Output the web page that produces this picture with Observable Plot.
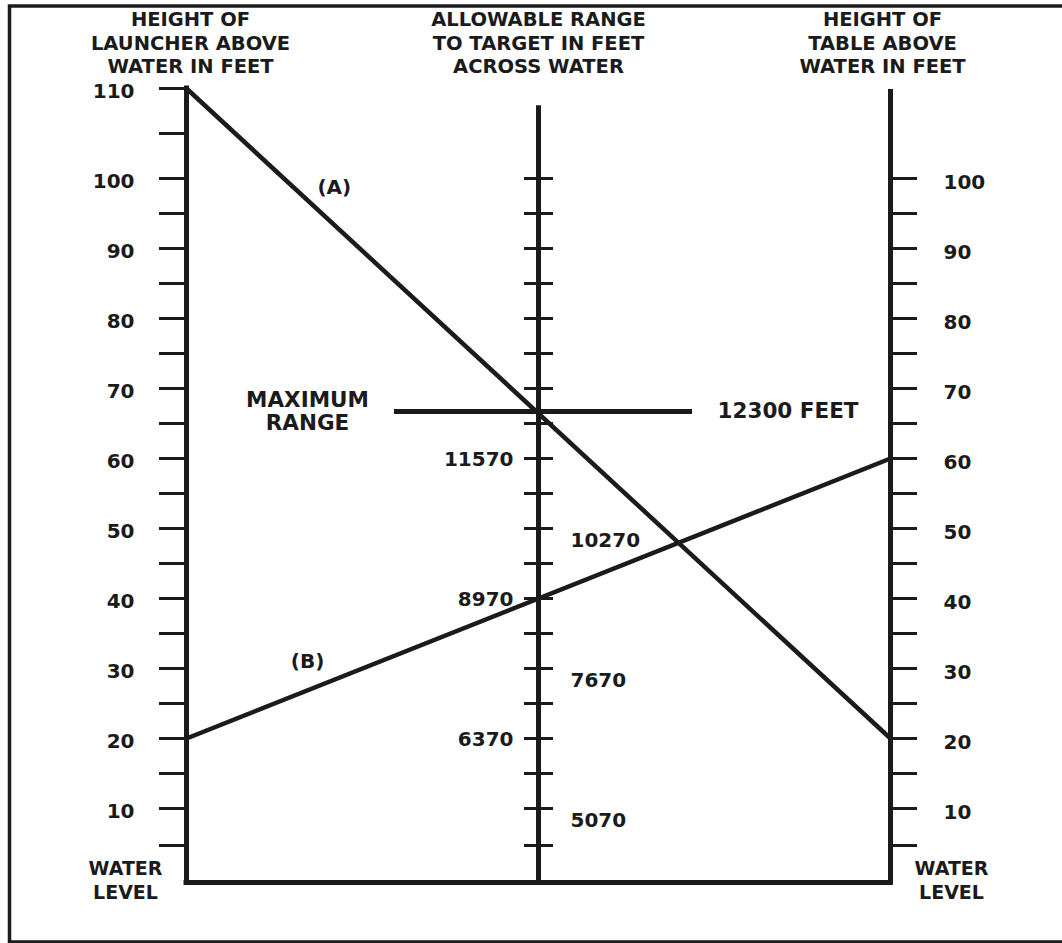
<!DOCTYPE html>
<html>
<head>
<meta charset="utf-8">
<script src="https://cdn.jsdelivr.net/npm/d3@7"></script>
<script src="https://cdn.jsdelivr.net/npm/@observablehq/plot@0.6"></script>
<style>
  html, body { margin: 0; padding: 0; background: #fff; }
  #chart svg { display: block; }
</style>
</head>
<body>
<div id="chart"></div>
<script>
// ---- data ----
const headers = [
  "HEIGHT OF\nLAUNCHER ABOVE\nWATER IN FEET",
  "ALLOWABLE RANGE\nTO TARGET IN FEET\nACROSS WATER",
  "HEIGHT OF\nTABLE ABOVE\nWATER IN FEET"
];
const leftTicks  = [5,10,15,20,25,30,35,40,45,50,55,60,65,70,75,80,85,90,95,100,105,110];
const midTicks   = [5,10,15,20,25,30,35,40,45,50,55,60,65,70,75,80,85,90,95,100];
const rightTicks = [5,10,15,20,25,30,35,40,45,50,55,60,65,70,75,80,85,90,95,100];
const leftLabels  = [10,20,30,40,50,60,70,80,90,100,110];
const rightLabels = [10,20,30,40,50,60,70,80,90,100];
const midRangeFeet   = [5070, 6370, 7670, 8970, 10270, 11570];
const midRangeHeight = [10, 20, 30, 40, 50, 60];
const midRangeSide   = ["right", "left", "right", "left", "right", "left"];
const axisTops = [110, 107.8, 109.6];           // left, middle, right scale tops
const lineNames       = ["(A)", "(B)"];
const launcherHeights = [110, 20];
const tableHeights    = [20, 60];
const maxRangeFeet   = 12300;
const maxRangeHeight = 66.7;

const ink = "#1b1b1b";
const font = "DejaVu Sans";

const midLabels = midRangeFeet.map((f, i) => ({feet: f, h: midRangeHeight[i], side: midRangeSide[i]}));
const lines = lineNames.map((n, i) => ({name: n, left: launcherHeights[i], right: tableHeights[i]}));

const txt = (data, opts) => Plot.text(data, {fill: ink, fontWeight: "bold", fontFamily: font, ...opts});

const chart = Plot.plot({
  width: 1062,
  height: 943,
  margin: 0,
  style: {background: "#fff", fontFamily: font},
  x: {type: "linear", domain: [0, 2], range: [186, 890], axis: null},
  y: {type: "linear", domain: [0, 10, 100, 110], range: [882, 808, 178, 88], axis: null},
  marks: [
    // headers
    txt([headers[0]], {x: () => 0, text: d => d, frameAnchor: "top", lineAnchor: "top", dy: 8, dx: 4, fontSize: 19.5, lineHeight: 1.23}),
    txt([headers[1]], {x: () => 1, text: d => d, frameAnchor: "top", lineAnchor: "top", dy: 8, fontSize: 19.5, lineHeight: 1.23}),
    txt([headers[2]], {x: () => 2, text: d => d, frameAnchor: "top", lineAnchor: "top", dy: 8, dx: -8, fontSize: 19.5, lineHeight: 1.23}),

    // ticks
    Plot.ruleY(leftTicks,  {y: d => d, x1: () => 0, x2: () => 0, insetLeft: -27, stroke: ink, strokeWidth: 3}),
    Plot.ruleY(midTicks,   {y: d => d, x1: () => 1, x2: () => 1, insetLeft: -14, insetRight: -15, stroke: ink, strokeWidth: 3}),
    Plot.ruleY(rightTicks, {y: d => d, x1: () => 2, x2: () => 2, insetRight: -27, stroke: ink, strokeWidth: 3}),

    // scale lines and water level
    Plot.ruleX([0, 1, 2], {x: d => d, y1: () => 0, y2: d => axisTops[d], stroke: ink, strokeWidth: 5, strokeLinecap: "square"}),
    Plot.ruleY([0], {y: d => d, x1: () => 0, x2: () => 2, stroke: ink, strokeWidth: 5, strokeLinecap: "square"}),

    // tick labels
    txt(leftLabels,  {x: () => 0, y: d => d, text: d => String(d), textAnchor: "end", dx: -52, dy: 3.5, fontSize: 20}),
    txt(rightLabels, {x: () => 2, y: d => d, text: d => String(d), textAnchor: "start", dx: 53, dy: 4, fontSize: 20}),
    txt(midLabels.filter(d => d.side === "left"),  {x: () => 1, y: "h", text: d => String(d.feet), textAnchor: "end", dx: -25, dy: 1.5, fontSize: 20}),
    txt(midLabels.filter(d => d.side === "right"), {x: () => 1, y: "h", text: d => String(d.feet), textAnchor: "start", dx: 32, dy: 12, fontSize: 20}),

    // water level labels
    txt(["WATER\nLEVEL"], {x: () => 0, y: () => 0, text: d => d, dx: -61, dy: -3, fontSize: 19, lineHeight: 1.26}),
    txt(["WATER\nLEVEL"], {x: () => 2, y: () => 0, text: d => d, dx: 61, dy: -3, fontSize: 19, lineHeight: 1.26}),

    // maximum range
    Plot.ruleY([maxRangeHeight], {y: d => d, x1: () => 1, x2: () => 1, insetLeft: -144, insetRight: -154, stroke: ink, strokeWidth: 5}),
    txt([maxRangeFeet], {x: () => 1, y: () => maxRangeHeight, text: d => `${d} FEET`, textAnchor: "start", dx: 179, dy: 0, fontSize: 21.5}),
    txt(["MAXIMUM\nRANGE"], {x: () => 1, y: () => maxRangeHeight, text: d => d, dx: -231, dy: 0, fontSize: 21.5, lineHeight: 1.07}),

    // solution lines
    Plot.link(lines, {x1: () => 0, y1: "left", x2: () => 2, y2: "right", stroke: ink, strokeWidth: 4.5}),
    txt([lines[0]], {x: () => 0.42, y: () => 98.7, text: "name", fontSize: 20}),
    txt([lines[1]], {x: () => 0.344, y: () => 31, text: "name", fontSize: 20}),

    // outer border
    Plot.frame({stroke: ink, strokeWidth: 3.5, insetLeft: 9, insetTop: 5.5, insetBottom: 1.5, insetRight: -6})
  ]
});

document.getElementById("chart").appendChild(chart);
</script>
</body>
</html>
